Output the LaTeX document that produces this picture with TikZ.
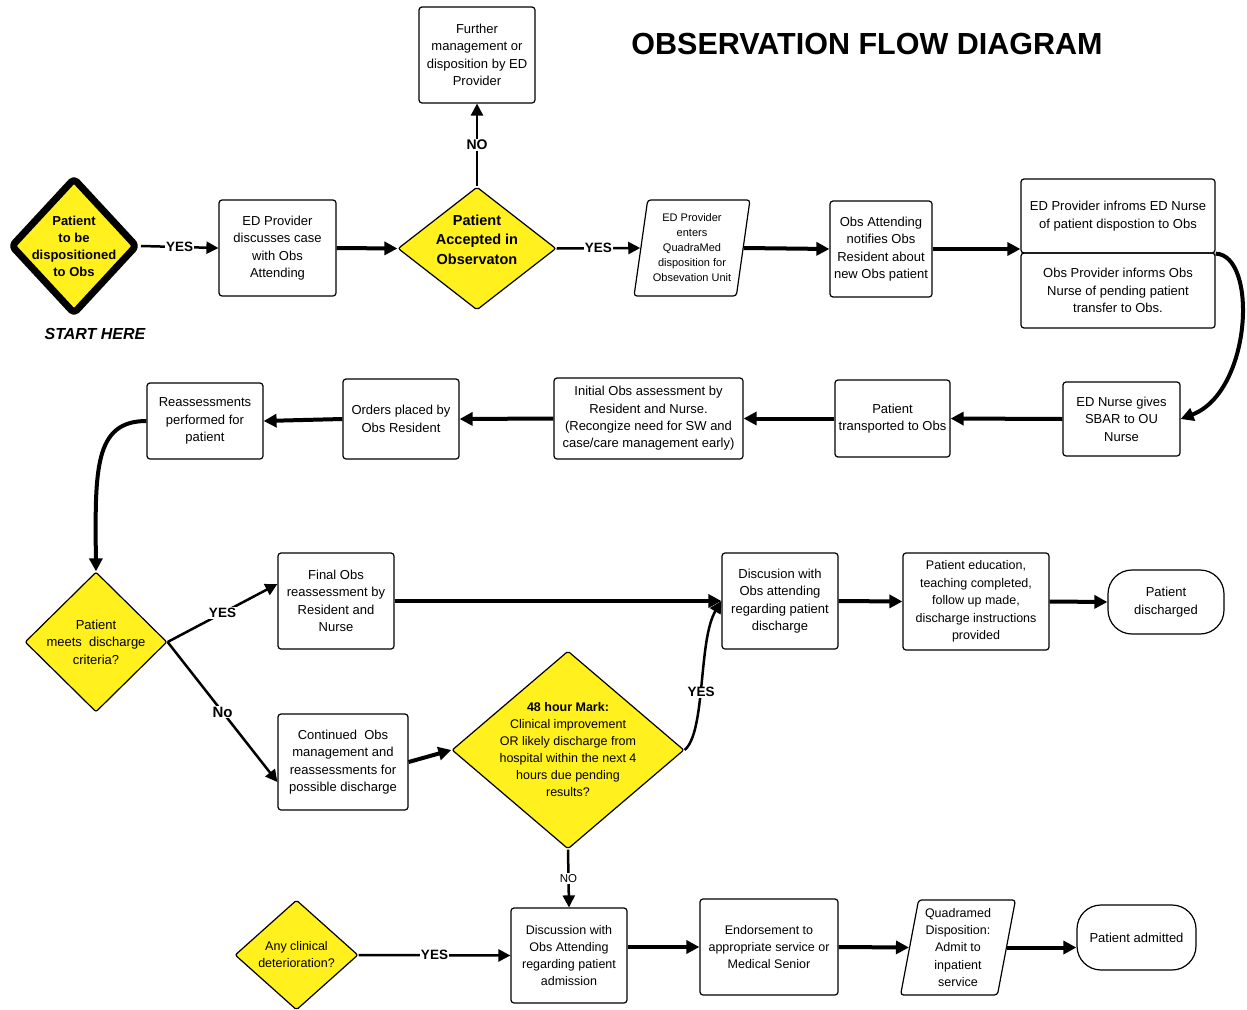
\documentclass[tikz,border=0pt]{standalone}
\usepackage{fontspec}
\setmainfont{Liberation Sans}
\usetikzlibrary{shapes.geometric,arrows.meta}
\definecolor{obsyellow}{RGB}{255,240,30}

\begin{document}
\begin{tikzpicture}[x=1pt, y=-1pt,
    box/.style={draw, line width=1.2pt, rounded corners=3pt, align=center, inner sep=2pt, font=\fontsize{13}{17.4}\selectfont},
    slantbox/.style={trapezium, trapezium left angle=80, trapezium right angle=100, trapezium stretches=true, draw, line width=1.2pt, rounded corners=3pt, align=center, inner sep=1pt},
    endbox/.style={draw, line width=1.2pt, rounded corners=24pt, align=center, font=\fontsize{13}{17.4}\selectfont},
    choice/.style={diamond, draw, line width=1.2pt, fill=obsyellow, rounded corners=2pt, inner sep=0pt},
    flow/.style={line width=4pt, -{Triangle[length=13pt,width=13pt]}},
    thinflow/.style={line width=2.5pt, -{Triangle[length=12pt,width=12pt]}},
    answer/.style={fill=white, inner sep=1pt, font=\bfseries\fontsize{13.5}{16}\selectfont}]

    \fill[white] (0,0) rectangle (1247,1009);
    \useasboundingbox (0,0) rectangle (1247,1009);

    \node[font=\bfseries\fontsize{30.5}{36}\selectfont] (title) at (867,44) {OBSERVATION FLOW DIAGRAM};

    \node[choice, line width=7pt, line join=round, rounded corners=4pt, minimum width=127pt, minimum height=137pt,
        label={[align=center, font=\bfseries\fontsize{13}{17}\selectfont]center:{Patient\\to be\\dispositioned\\to Obs}}] (start) at (74,246) {};
    \node[font=\bfseries\itshape\fontsize{16}{19}\selectfont] (here) at (95,334) {START HERE};
    \node[box, minimum width=117pt, minimum height=96pt] (discuss) at (277.5,248) {ED Provider\\discusses case\\with Obs\\Attending};
    \node[choice, minimum width=158pt, minimum height=123pt,
        label={[align=center, yshift=9pt, font=\bfseries\fontsize{14.5}{19.5}\selectfont]center:{Patient\\Accepted in\\Observaton}}] (accept) at (477,248.5) {};
    \node[box, minimum width=116pt, minimum height=96pt] (further) at (477,55) {Further\\management or\\disposition by ED\\Provider};
    \node[slantbox, minimum width=116pt, minimum height=96pt, font=\fontsize{11}{15}\selectfont] (quadmed) at (692,248) {ED Provider\\enters\\QuadraMed\\disposition for\\Obsevation Unit};
    \node[box, minimum width=102pt, minimum height=96pt] (notify) at (881,249) {Obs Attending\\notifies Obs\\Resident about\\new Obs patient};
    \node[box, minimum width=194pt, minimum height=74pt] (inform) at (1118,216) {ED Provider infroms ED Nurse\\of patient dispostion to Obs};
    \node[box, minimum width=194pt, minimum height=75pt] (obsinform) at (1118,290.5) {Obs Provider informs Obs\\Nurse of pending patient\\transfer to Obs.};

    \node[box, minimum width=117pt, minimum height=74pt] (sbar) at (1121.5,419) {ED Nurse gives\\SBAR to OU\\Nurse};
    \node[box, minimum width=115pt, minimum height=77pt] (transport) at (892.5,418.5) {Patient\\transported to Obs};
    \node[box, minimum width=189pt, minimum height=81pt] (initial) at (648.5,418.5) {Initial Obs assessment by\\Resident and Nurse.\\(Recongize need for SW and\\case/care management early)};
    \node[box, minimum width=116pt, minimum height=80pt] (orders) at (401,419) {Orders placed by\\Obs Resident};
    \node[box, minimum width=116pt, minimum height=76pt] (reassess) at (205,421) {Reassessments\\performed for\\patient};

    \node[choice, minimum width=142pt, minimum height=140pt,
        label={[align=center, font=\fontsize{13}{17.4}\selectfont]center:{Patient\\meets\ \ discharge\\criteria?}}] (meets) at (96,642) {};
    \node[box, minimum width=116pt, minimum height=96pt] (final) at (336,601) {Final Obs\\reassessment by\\Resident and\\Nurse};
    \node[box, minimum width=130pt, minimum height=96pt] (continued) at (343,762) {Continued\ \ Obs\\management and\\reassessments for\\possible discharge};
    \node[choice, minimum width=232pt, minimum height=198pt,
        label={[align=center, font=\fontsize{12.5}{17}\selectfont]center:{\textbf{48 hour Mark:}\\Clinical improvement\\OR likely discharge from\\hospital within the next 4\\hours due pending\\results?}}] (mark48) at (568,750) {};
    \node[box, minimum width=116pt, minimum height=96pt] (discdis) at (780,601) {Discusion with\\Obs attending\\regarding patient\\discharge};
    \node[box, minimum width=146pt, minimum height=97pt, font=\fontsize{12.5}{17.4}\selectfont] (educ) at (976,601.5) {Patient education,\\teaching completed,\\follow up made,\\discharge instructions\\provided};
    \node[endbox, minimum width=116pt, minimum height=64pt] (discharged) at (1166,602) {Patient\\discharged};

    \node[choice, minimum width=123pt, minimum height=110pt,
        label={[align=center, font=\fontsize{12.5}{17}\selectfont]center:{Any clinical\\deterioration?}}] (clinical) at (296.5,955) {};
    \node[box, minimum width=116pt, minimum height=95pt, font=\fontsize{12.5}{17.2}\selectfont] (admitdisc) at (569,955.5) {Discussion with\\Obs Attending\\regarding patient\\admission};
    \node[box, minimum width=138pt, minimum height=96pt, font=\fontsize{12.5}{17.2}\selectfont] (endorse) at (769,947) {Endorsement to\\appropriate service or\\Medical Senior};
    \node[slantbox, trapezium left angle=79, trapezium right angle=101, minimum width=116pt, minimum height=95pt, font=\fontsize{12.5}{17.2}\selectfont] (quadadmit) at (958,947.5) {Quadramed\\Disposition:\\Admit to\\inpatient\\service};
    \node[endbox, minimum width=119pt, minimum height=65pt] (admitted) at (1136.5,937.5) {Patient admitted};

    \draw[thinflow] (start.east) -- node[answer] {YES} (discuss.west);
    \draw[flow] (discuss.east) -- (accept.west);
    \draw[thinflow] (accept.north) -- node[answer, font=\bfseries\fontsize{14}{16}\selectfont] {NO} (further.south);
    \draw[thinflow] (accept.east) -- node[answer] {YES} (quadmed.west);
    \draw[flow] (quadmed.east) -- (notify.west);
    \draw[flow] (notify.east) -- (notify.east -| inform.south west);
    \draw[flow] (inform.south east) .. controls (1258,255) and (1252,392) .. (sbar.east);
    \draw[flow] (sbar.west) -- (transport.east);
    \draw[flow] (transport.west) -- (initial.east);
    \draw[flow] (initial.west) -- (orders.east);
    \draw[flow] (orders.west) -- (reassess.east);
    \draw[flow] (reassess.west) .. controls (94,421) and (95,470) .. (meets.north);

    \draw[thinflow] (meets.east) -- node[answer] {YES} ([yshift=17pt]final.west);
    \draw[thinflow] (meets.east) -- node[answer, font=\bfseries\fontsize{15}{17}\selectfont] {No} ([yshift=-20pt]continued.west);
    \draw[flow] (final.east) -- (discdis.west);
    \draw[flow] (continued.east) -- (mark48.west);
    \draw[thinflow] (mark48.east) .. controls (706,732) and (698,640) .. node[answer, pos=0.45] {YES} (discdis.west);
    \draw[flow] (discdis.east) -- (educ.west);
    \draw[flow] (educ.east) -- (discharged.west);

    \draw[thinflow] (mark48.south) -- node[fill=white, inner sep=1pt, font=\fontsize{11.5}{14}\selectfont] {NO} (admitdisc.north);
    \draw[thinflow] (clinical.east) -- node[answer] {YES} (admitdisc.west);
    \draw[flow] (admitdisc.east |- endorse.west) -- (endorse.west);
    \draw[flow] (endorse.east) -- (quadadmit.west);
    \draw[flow] (quadadmit.east) -- (quadadmit.east -| admitted.west);
\end{tikzpicture}
\end{document}
